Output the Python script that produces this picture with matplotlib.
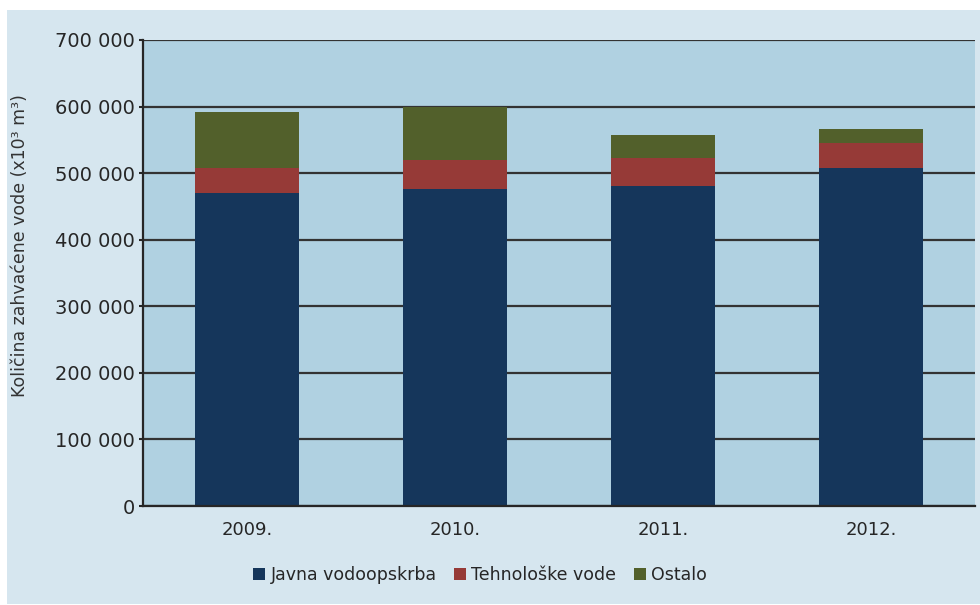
import matplotlib.pyplot as plt
from matplotlib.patches import Patch, Rectangle
from matplotlib.ticker import FuncFormatter
import numpy as np

years = ["2009.", "2010.", "2011.", "2012."]
javna = [470000, 476000, 481000, 508000]
tehnoloske = [38000, 43000, 41000, 38000]
ostalo = [84000, 81000, 36000, 20000]

series_labels = ["Javna vodoopskrba", "Tehnološke vode", "Ostalo"]
colors = ["#15365b", "#963a37", "#52602b"]

plt.rcParams["font.family"] = "DejaVu Sans"

fig = plt.figure(figsize=(9.8, 6.05), dpi=100, facecolor="white")
# light panel behind everything
fig.patches.append(Rectangle((7 / 980, 1 / 605), 973 / 980, 594 / 605,
                             transform=fig.transFigure, facecolor="#d6e6ef",
                             edgecolor="none", zorder=-10))

ax = fig.add_axes([143 / 980, 1 - 506 / 605, 832 / 980, 466 / 605])
ax.set_facecolor("#b0d1e1")

x = np.arange(len(years))
bottom = np.zeros(len(years))
for vals, col in zip([javna, tehnoloske, ostalo], colors):
    ax.bar(x, vals, width=0.5, bottom=bottom, color=col, zorder=3)
    bottom += np.array(vals)

ax.set_xlim(-0.5, 3.5)
ax.set_ylim(0, 700000)
ax.set_yticks(range(0, 700001, 100000))
ax.yaxis.set_major_formatter(FuncFormatter(lambda v, p: f"{int(v):,}".replace(",", " ")))
ax.set_xticks(x)
ax.set_xticklabels(years)

ax.grid(axis="y", color="#333333", linewidth=1.6, zorder=1)
for s in ["top", "right"]:
    ax.spines[s].set_visible(False)
for s in ["left", "bottom"]:
    ax.spines[s].set_color("#262626")
    ax.spines[s].set_linewidth(1.6)
    ax.spines[s].set_zorder(4)

ax.tick_params(axis="y", length=3, width=1.5, color="#262626", pad=3,
               labelsize=14, labelcolor="#262626")
ax.tick_params(axis="x", length=0, pad=11, labelsize=13, labelcolor="#262626")

fig.text(20 / 980, 1 - 246 / 605, "Količina zahvaćene vode (x10³ m³)",
         rotation=90, ha="center", va="center", fontsize=12.5, color="#333333")

handles = [Patch(facecolor=c, edgecolor="none") for c in colors]
fig.legend(handles, series_labels, loc="center", bbox_to_anchor=(480 / 980, 1 - 575 / 605),
           ncol=3, frameon=False, fontsize=12.5, handlelength=0.7, handleheight=0.7,
           handletextpad=0.3, columnspacing=1.0, labelcolor="#262626")

fig.savefig("out.png", dpi=100, facecolor="white")
